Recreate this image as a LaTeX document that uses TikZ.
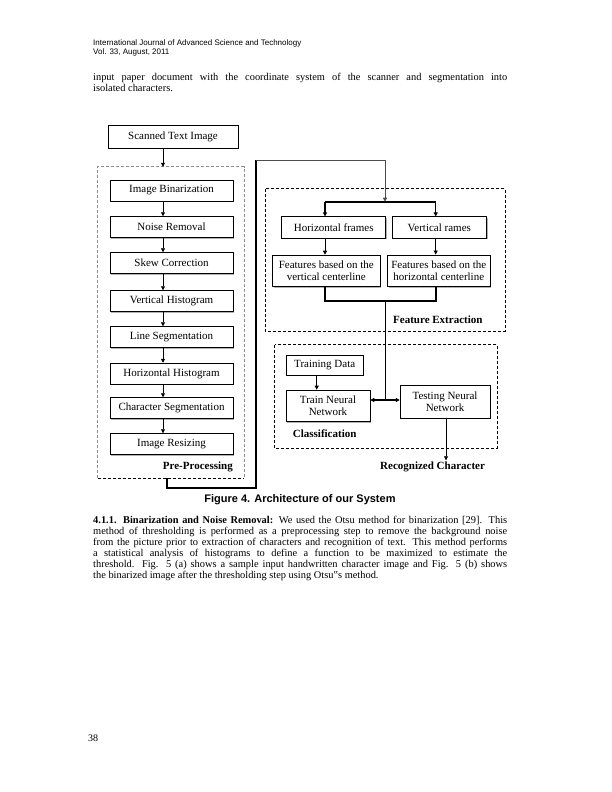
\documentclass[tikz,border=0pt]{standalone}
\usepackage{fontspec}
\setmainfont{Liberation Serif}
\newfontfamily\arialf{Liberation Sans}
\usetikzlibrary{arrows.meta,shadows}
\begin{document}
\begin{tikzpicture}[x=1pt,y=-1pt,
  box/.style={draw=black, line width=0.5pt, fill=white, inner sep=0pt, align=center,
    font=\fontsize{11}{12}\selectfont,
    drop shadow={shadow xshift=1pt,shadow yshift=-1pt,fill=black!30,opacity=1}},
  pbox/.style={box, minimum width=123pt, minimum height=21pt},
  grp/.style={draw=none, inner sep=0pt},
  graydash/.style={draw=black!45, line width=0.8pt, dash pattern=on 3pt off 2pt},
  blackdash/.style={draw=black, line width=0.8pt, dash pattern=on 3pt off 2pt},
  tip/.tip={Triangle[length=4pt,width=4pt]},
  arr/.style={-tip, line width=0.7pt},
  thickln/.style={line width=1.6pt},
  thinln/.style={line width=0.6pt, draw=black!70},
  lbl/.style={font=\fontsize{11}{12}\selectfont\bfseries, inner sep=0pt},
  para/.style={anchor=base west, inner sep=0pt, text width=414pt, align=justify,
    font=\fontsize{10.4}{11}\selectfont}
]
\path[use as bounding box, fill=white] (0,0) rectangle (612,792);

% header
\node[anchor=base west, inner sep=0pt, font=\arialf\fontsize{8}{9}\selectfont] (h1) at (93,46) {International Journal of Advanced Science and Technology};
\node[anchor=base west, inner sep=0pt, font=\arialf\fontsize{8}{9}\selectfont] (h2) at (93,54.5) {Vol. 33, August, 2011};

\node[para] (p0) at (93,81) {input paper document with the coordinate system of the scanner and segmentation into\linebreak isolated characters.};

% pre-processing
\node[box, minimum width=130pt, minimum height=23pt] (scan) at (173,136.5) {Scanned Text Image};
\node[grp, minimum width=146pt, minimum height=311pt] (pre) at (171,322.5) {};
\draw[graydash] (pre.south west) -- (pre.north west) -- (pre.north east) -- (pre.south east);
\draw[blackdash] (pre.south west) -- (pre.south east);

\node[pbox] (ib) at (171.5,190.5) {Image Binarization};
\node[pbox] (nr) at (171.5,227) {Noise Removal};
\node[pbox] (sc) at (171.5,263) {Skew Correction};
\node[pbox] (vh) at (171.5,301) {Vertical Histogram};
\node[pbox] (ls) at (171.5,337) {Line Segmentation};
\node[pbox] (hh) at (171.5,373.5) {Horizontal Histogram};
\node[pbox] (cs) at (171.5,408) {Character Segmentation};
\node[pbox] (ir) at (171.5,444) {Image Resizing};
\node[lbl, anchor=east] (ppl) at (233,467) {Pre-Processing};

\draw[arr] ([xshift=-10pt]scan.south) -- ([xshift=-10pt]scan.south |- pre.north);
\foreach \a/\b in {ib/nr,nr/sc,sc/vh,vh/ls,ls/hh,hh/cs,cs/ir}
  \draw[arr] ([xshift=-8.5pt]\a.south) -- ([xshift=-8.5pt]\b.north);

% connector to feature extraction
\coordinate (c2) at (256,160);
\coordinate (c3) at (385,160);
\coordinate (bL) at (325,201.7);
\coordinate (bR) at (435.7,201.7);
\coordinate (bC) at (385,201.7);
\draw[thickln] ([xshift=-4.3pt]pre.south) -- ++(0,9.7) -| (c2);
\draw[thinln] (c2) -- (c3);
\draw[thinln, arr] (c3) -- (bC);

% feature extraction
\node[grp, minimum width=239.5pt, minimum height=141.7pt] (fe) at (385.25,259.85) {};
\draw[blackdash] (fe.north west) rectangle (fe.south east);
\node[box, minimum width=104pt, minimum height=21.6pt] (hf) at (333.7,227.5) {Horizontal frames};
\node[box, minimum width=94.7pt, minimum height=21.6pt] (vf) at (439.3,227.5) {Vertical rames};
\node[box, minimum width=107.3pt, minimum height=31.7pt] (fv) at (326.3,270.8) {Features based on the\\vertical centerline};
\node[box, minimum width=102.3pt, minimum height=31.7pt, line width=0.8pt] (fh) at (438.8,270.8) {Features based on the\\horizontal centerline};
\node[lbl, anchor=west] (fel) at (393,319.3) {Feature Extraction};

\draw[thickln] (bL) -- (bR);
\draw[arr, line width=1.2pt] (bL) -- (bL |- hf.north);
\draw[arr, line width=1.2pt] (bR) -- (bR |- vf.north);
\draw[arr] (bL |- hf.south) -- (bL |- fv.north);
\draw[arr] (bR |- vf.south) -- (bR |- fh.north);

\coordinate (mL) at (325,300.7);
\coordinate (mR) at (435.7,300.7);
\coordinate (mC) at (385,300.7);
\coordinate (jn) at (385,400);
\draw[thickln] (bL |- fv.south) -- (mL) -- (mR) -- (bR |- fh.south);

% classification
\node[grp, minimum width=221.7pt, minimum height=103.3pt] (cl) at (385.85,396.65) {};
\draw[blackdash] (cl.north west) rectangle (cl.south east);
\node[box, minimum width=77.3pt, minimum height=20pt] (td) at (324.7,365) {Training Data};
\node[box, minimum width=84pt, minimum height=31.7pt] (train) at (328,405.8) {Train Neural\\Network};
\node[box, minimum width=90pt, minimum height=33.3pt] (test) at (445,401.7) {Testing Neural\\Network};
\node[lbl, anchor=west] (cll) at (292.7,433.3) {Classification};
\node[lbl, anchor=west] (rec) at (380,466.7) {Recognized Character};

\draw[line width=0.9pt] (mC) -- (jn);
\draw[thickln, tip-tip] (train.east |- jn) -- (test.west |- jn);
\draw[arr] ([xshift=-8pt]td.south) -- ([xshift=-8pt]td.south |- train.north);
\draw[arr] ([xshift=1pt]test.south) -- ++(0,41.7);

% caption
\node[anchor=base, inner sep=0pt, font=\arialf\bfseries\fontsize{11}{13}\selectfont] (cap) at (300,502) {Figure 4. Architecture of our System};

\node[para] (p1) at (93,523) {\textbf{4.1.1. Binarization and Noise Removal:} We used the Otsu method for binarization [29]. This\linebreak method of thresholding is performed as a preprocessing step to remove the background noise\linebreak from the picture prior to extraction of characters and recognition of text. This method performs\linebreak a statistical analysis of histograms to define a function to be maximized to estimate the\linebreak threshold. Fig. 5 (a) shows a sample input handwritten character image and Fig. 5 (b) shows\linebreak the binarized image after the thresholding step using Otsu‟s method.};

\node[anchor=base west, inner sep=0pt, font=\fontsize{10}{11}\selectfont] (pg) at (88,741) {38};
\end{tikzpicture}
\end{document}
